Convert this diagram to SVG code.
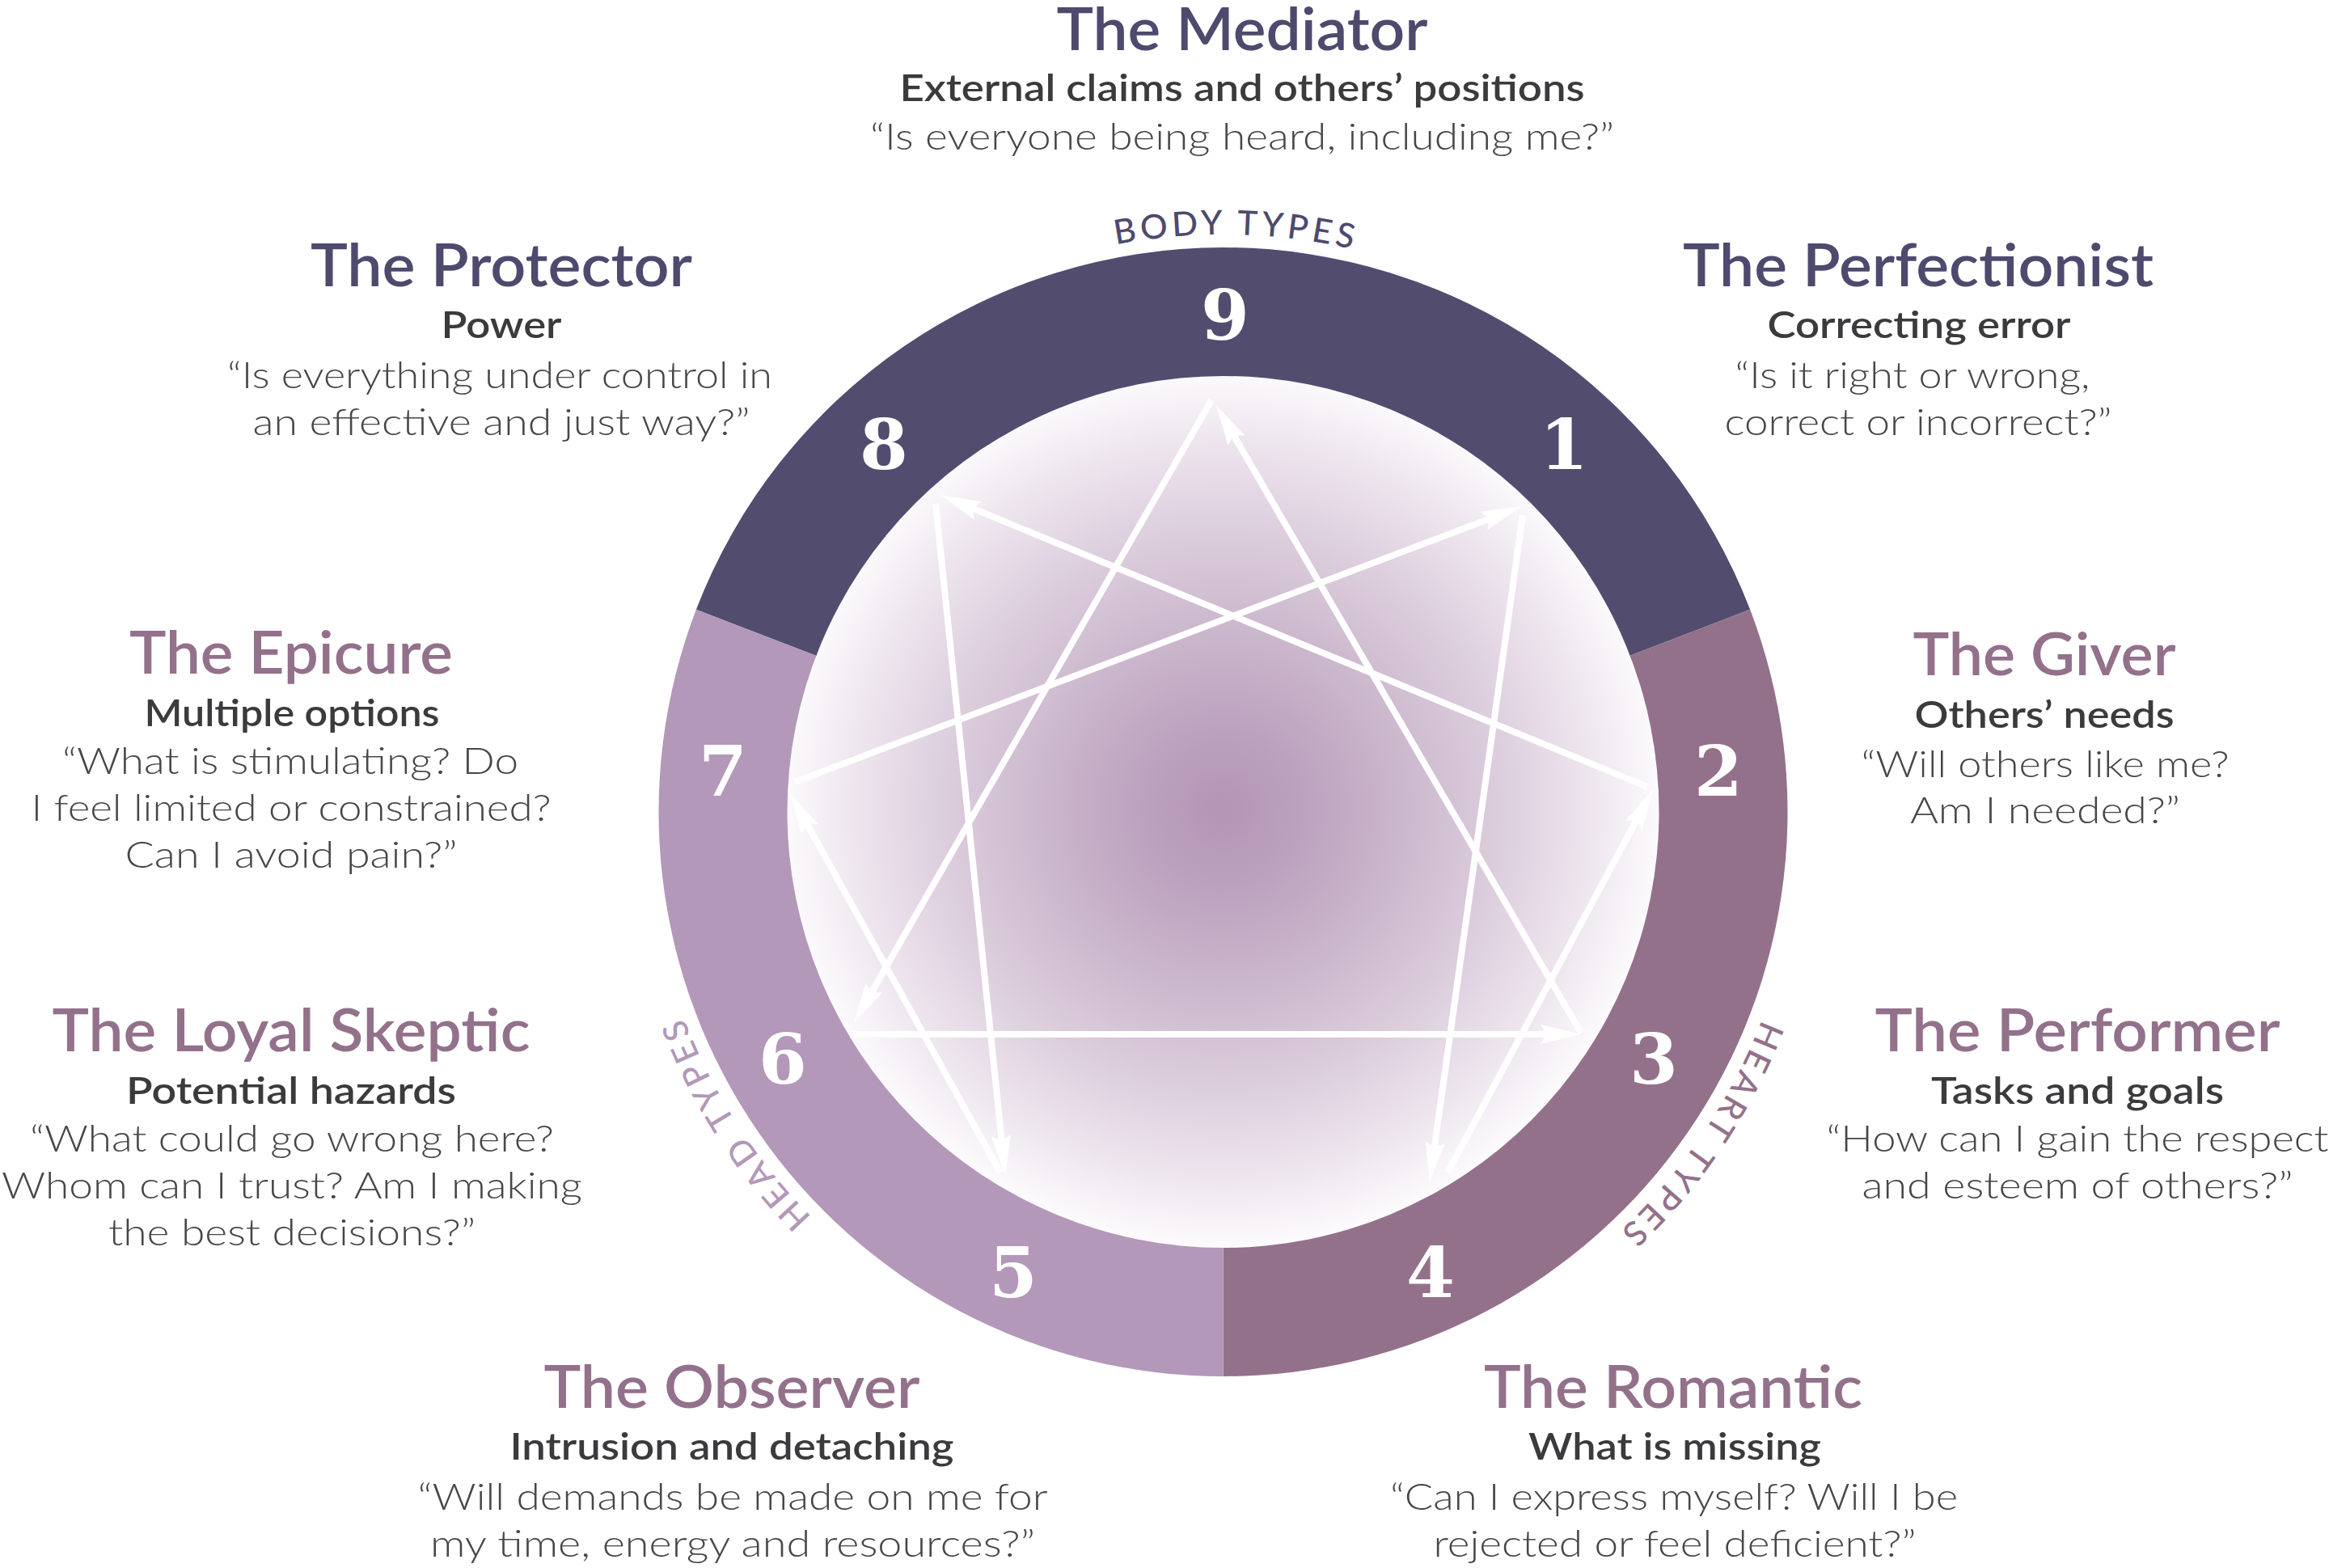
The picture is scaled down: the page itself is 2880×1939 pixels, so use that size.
<svg xmlns="http://www.w3.org/2000/svg" width="2880" height="1939" viewBox="0 0 2880 1939">
<style>
.t{font-family:Lato,"Liberation Sans","DejaVu Sans",sans-serif;text-anchor:middle}
.title{font-size:74px;font-weight:600}
.dk{fill:#4e4a6e}
.mv{fill:#93718b}
.sub{font-size:46px;font-weight:600;fill:#3b3b3d}
.q{font-size:46px;font-weight:300;fill:#474747}
.num{font-family:"DejaVu Serif","Liberation Serif",serif;font-weight:700;font-size:86px;fill:#ffffff;text-anchor:middle}
.lbl{font-family:Lato,"Liberation Sans",sans-serif;font-size:42px;font-weight:500;letter-spacing:5px;text-anchor:middle}
.ln{stroke:#ffffff;stroke-width:8;fill:none;marker-end:url(#ah)}
</style>
<defs>
<radialGradient id="cg" cx="1512" cy="1000" r="540" gradientUnits="userSpaceOnUse">
<stop offset="0" stop-color="#b395b5"/>
<stop offset="0.2" stop-color="#bda3bf"/>
<stop offset="0.45" stop-color="#cebbcf"/>
<stop offset="0.65" stop-color="#ddcfde"/>
<stop offset="0.85" stop-color="#eee6ef"/>
<stop offset="1" stop-color="#fcfafc"/>
</radialGradient>
<marker id="ah" markerUnits="userSpaceOnUse" viewBox="0 -13 52 26" markerWidth="52" markerHeight="26" refX="30" refY="0" orient="auto">
<path d="M0,-12 L50,0 L0,12 L7,0 Z" fill="#ffffff"/>
</marker>
<path id="lblpath" d="M1512.5,1718 A714,714 0 1 1 1512.5,290 A714,714 0 1 1 1512.5,1718"/>
</defs>
<rect x="0" y="0" width="2880" height="1939" fill="#ffffff"/>

<g id="ring">
<path id="seg-body" d="M860.86,753.86 A698,698 0 0 1 2164.14,753.86 L2014.77,811.20 A538,538 0 0 0 1010.23,811.20 Z" fill="#524d6f"/>
<path id="seg-heart" d="M2164.14,753.86 A698,698 0 0 1 1512.5,1702 L1512.5,1542 A538,538 0 0 0 2014.77,811.20 Z" fill="#94718b"/>
<path id="seg-head" d="M1512.5,1702 A698,698 0 0 1 860.86,753.86 L1010.23,811.20 A538,538 0 0 0 1512.5,1542 Z" fill="#b398b9"/>
</g>
<g id="center">
<circle cx="1512.5" cy="1004" r="539" fill="url(#cg)"/>
</g>

<g id="ring-labels">
<text class="lbl" fill="#4e4a6e"><textPath href="#lblpath" startOffset="2259">BODY TYPES</textPath></text>
<text class="lbl" fill="#94718b"><textPath href="#lblpath" startOffset="3788">HEART TYPES</textPath></text>
<text class="lbl" fill="#b398b9"><textPath href="#lblpath" startOffset="716">HEAD TYPES</textPath></text>
</g>

<g id="connectors">
<line class="ln" x1="1498" y1="495" x2="1066" y2="1247.4"/>
<line class="ln" x1="1055" y1="1279" x2="1935" y2="1279"/>
<line class="ln" x1="1955" y1="1277" x2="1514" y2="518.6"/>
<line class="ln" x1="1883" y1="637" x2="1770.5" y2="1442.2"/>
<line class="ln" x1="1790" y1="1450" x2="2034.5" y2="993.9"/>
<line class="ln" x1="2037" y1="973" x2="1181.6" y2="619.9"/>
<line class="ln" x1="1157" y1="623" x2="1241.1" y2="1434.1"/>
<line class="ln" x1="1237" y1="1450" x2="986.7" y2="998.7"/>
<line class="ln" x1="983" y1="967" x2="1863.2" y2="633.4"/>
</g>

<g id="numbers">
<text class="num" x="1515" y="420">9</text>
<text class="num" x="1934" y="580">1</text>
<text class="num" x="2125" y="984">2</text>
<text class="num" x="2045" y="1340">3</text>
<text class="num" x="1769" y="1604">4</text>
<text class="num" x="1253" y="1604">5</text>
<text class="num" x="968" y="1340">6</text>
<text class="num" x="894" y="984">7</text>
<text class="num" x="1093" y="580">8</text>
</g>

<g id="type9">
<text class="t title dk" x="1536" y="62" textLength="459" lengthAdjust="spacingAndGlyphs">The Mediator</text>
<text class="t sub" x="1536" y="125" textLength="847" lengthAdjust="spacingAndGlyphs">External claims and others’ positions</text>
<text class="t q" x="1536" y="185" textLength="920" lengthAdjust="spacingAndGlyphs">“Is everyone being heard, including me?”</text>
</g>
<g id="type8">
<text class="t title dk" x="620" y="354" textLength="472" lengthAdjust="spacingAndGlyphs">The Protector</text>
<text class="t sub" x="620" y="418" textLength="149" lengthAdjust="spacingAndGlyphs">Power</text>
<text class="t q" x="618" y="480" textLength="674" lengthAdjust="spacingAndGlyphs">“Is everything under control in</text>
<text class="t q" x="620" y="538" textLength="615" lengthAdjust="spacingAndGlyphs">an effective and just way?”</text>
</g>
<g id="type1">
<text class="t title dk" x="2372" y="354" textLength="582" lengthAdjust="spacingAndGlyphs">The Perfectionist</text>
<text class="t sub" x="2373" y="418" textLength="375" lengthAdjust="spacingAndGlyphs">Correcting error</text>
<text class="t q" x="2365" y="480" textLength="439" lengthAdjust="spacingAndGlyphs">“Is it right or wrong,</text>
<text class="t q" x="2372" y="538" textLength="479" lengthAdjust="spacingAndGlyphs">correct or incorrect?”</text>
</g>
<g id="type7">
<text class="t title mv" x="360" y="833" textLength="400" lengthAdjust="spacingAndGlyphs">The Epicure</text>
<text class="t sub" x="361" y="898" textLength="365" lengthAdjust="spacingAndGlyphs">Multiple options</text>
<text class="t q" x="359" y="957" textLength="564" lengthAdjust="spacingAndGlyphs">“What is stimulating? Do</text>
<text class="t q" x="360" y="1015" textLength="643" lengthAdjust="spacingAndGlyphs">I feel limited or constrained?</text>
<text class="t q" x="360" y="1073" textLength="411" lengthAdjust="spacingAndGlyphs">Can I avoid pain?”</text>
</g>
<g id="type2">
<text class="t title mv" x="2528" y="835" textLength="325" lengthAdjust="spacingAndGlyphs">The Giver</text>
<text class="t sub" x="2528" y="900" textLength="321" lengthAdjust="spacingAndGlyphs">Others’ needs</text>
<text class="t q" x="2529" y="961" textLength="455" lengthAdjust="spacingAndGlyphs">“Will others like me?</text>
<text class="t q" x="2529" y="1018" textLength="334" lengthAdjust="spacingAndGlyphs">Am I needed?”</text>
</g>
<g id="type6">
<text class="t title mv" x="360" y="1300" textLength="591" lengthAdjust="spacingAndGlyphs">The Loyal Skeptic</text>
<text class="t sub" x="360" y="1365" textLength="408" lengthAdjust="spacingAndGlyphs">Potential hazards</text>
<text class="t q" x="361" y="1424" textLength="648" lengthAdjust="spacingAndGlyphs">“What could go wrong here?</text>
<text class="t q" x="361" y="1482" textLength="718" lengthAdjust="spacingAndGlyphs">Whom can I trust? Am I making</text>
<text class="t q" x="361" y="1540" textLength="454" lengthAdjust="spacingAndGlyphs">the best decisions?”</text>
</g>
<g id="type3">
<text class="t title mv" x="2569" y="1300" textLength="501" lengthAdjust="spacingAndGlyphs">The Performer</text>
<text class="t sub" x="2569" y="1365" textLength="362" lengthAdjust="spacingAndGlyphs">Tasks and goals</text>
<text class="t q" x="2569" y="1424" textLength="621" lengthAdjust="spacingAndGlyphs">“How can I gain the respect</text>
<text class="t q" x="2569" y="1482" textLength="533" lengthAdjust="spacingAndGlyphs">and esteem of others?”</text>
</g>
<g id="type5">
<text class="t title mv" x="905" y="1741" textLength="465" lengthAdjust="spacingAndGlyphs">The Observer</text>
<text class="t sub" x="905" y="1805" textLength="549" lengthAdjust="spacingAndGlyphs">Intrusion and detaching</text>
<text class="t q" x="906" y="1867" textLength="779" lengthAdjust="spacingAndGlyphs">“Will demands be made on me for</text>
<text class="t q" x="906" y="1925" textLength="748" lengthAdjust="spacingAndGlyphs">my time, energy and resources?”</text>
</g>
<g id="type4">
<text class="t title mv" x="2069" y="1741" textLength="468" lengthAdjust="spacingAndGlyphs">The Romantic</text>
<text class="t sub" x="2071" y="1805" textLength="362" lengthAdjust="spacingAndGlyphs">What is missing</text>
<text class="t q" x="2070" y="1867" textLength="702" lengthAdjust="spacingAndGlyphs">“Can I express myself? Will I be</text>
<text class="t q" x="2071" y="1925" textLength="597" lengthAdjust="spacingAndGlyphs">rejected or feel deficient?”</text>
</g>
</svg>
